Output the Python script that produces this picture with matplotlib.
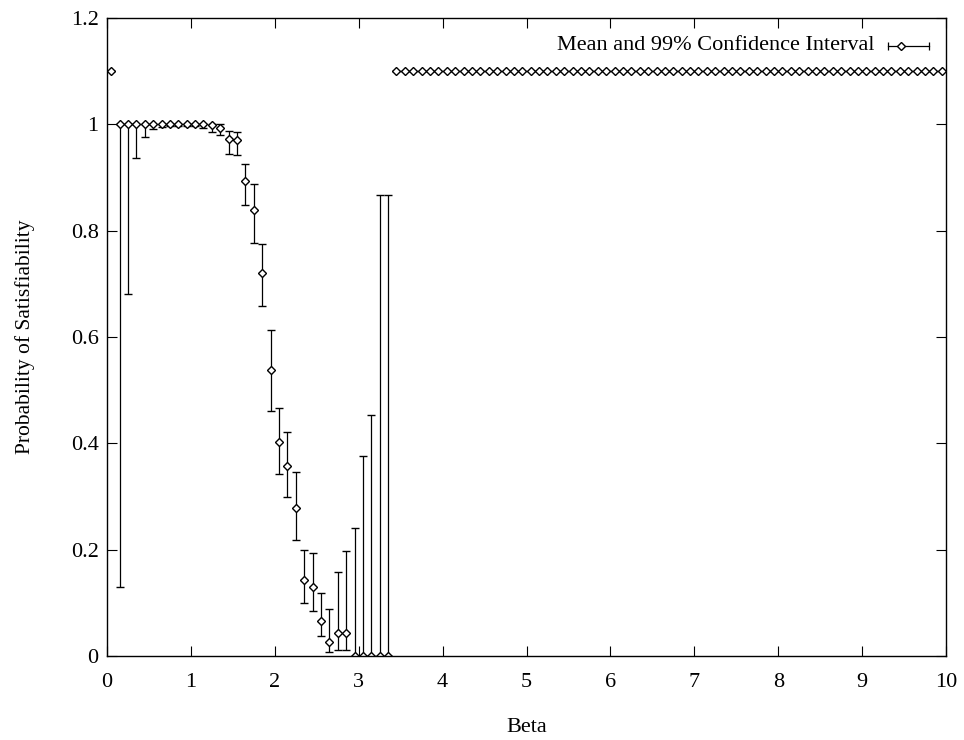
import numpy as np
import matplotlib
matplotlib.use("Agg")
import matplotlib.pyplot as plt

plt.rcParams["font.family"] = ["Liberation Serif", "DejaVu Serif"]

# beta values, mean probability, and 99% CI bounds
beta = [0.05, 0.15, 0.25, 0.35, 0.45, 0.55, 0.65, 0.75, 0.85, 0.95,
        1.05, 1.15, 1.25, 1.35, 1.45, 1.55, 1.65, 1.75, 1.85, 1.95,
        2.05, 2.15, 2.25, 2.35, 2.45, 2.55, 2.65, 2.75, 2.85, 2.95,
        3.05, 3.15, 3.25, 3.35]
mean = [1.1, 1.0, 1.0, 1.0, 1.0, 1.0, 1.0, 1.0, 1.0, 1.0,
        1.0, 1.0, 0.999, 0.994, 0.973, 0.970, 0.893, 0.839, 0.720, 0.537,
        0.403, 0.357, 0.278, 0.143, 0.130, 0.066, 0.027, 0.044, 0.044, 0.0,
        0.0, 0.0, 0.0, 0.0]
lower = [1.1, 0.13, 0.68, 0.937, 0.977, 0.991, 0.995, 0.997, 0.997, 0.997,
         0.996, 0.993, 0.985, 0.979, 0.945, 0.942, 0.848, 0.776, 0.658, 0.461,
         0.342, 0.299, 0.218, 0.100, 0.085, 0.037, 0.008, 0.011, 0.011, 0.0,
         0.0, 0.0, 0.0, 0.0]
upper = [1.1, 1.0, 1.0, 1.0, 1.0, 1.0, 1.0, 1.0, 1.0, 1.0,
         1.0, 1.0, 1.0, 1.0, 0.987, 0.985, 0.926, 0.887, 0.775, 0.613,
         0.466, 0.421, 0.347, 0.199, 0.194, 0.119, 0.088, 0.158, 0.197, 0.240,
         0.376, 0.453, 0.868, 0.868]

# runs that never finished are parked at 1.1
beta_none = [round(3.45 + 0.1 * i, 2) for i in range(66)]
mean_none = [1.1] * len(beta_none)

x = np.array(beta + beta_none)
y = np.array(mean + mean_none)
lo = np.array(lower + mean_none)
hi = np.array(upper + mean_none)
yerr = [y - lo, hi - y]

FS = 16

fig = plt.figure(figsize=(9.64, 7.40), dpi=100)
ax = fig.add_axes([107 / 964, 84 / 740, 839 / 964, 638 / 740])

ax.errorbar(x, y, yerr=yerr, fmt="D", color="black", ms=3.8, mfc="white",
            mec="black", mew=1.0, elinewidth=0.9, capsize=3, capthick=0.9)

ax.set_xlim(0, 10)
ax.set_ylim(0, 1.2)
ax.set_xticks(range(0, 11))
ax.set_yticks([0, 0.2, 0.4, 0.6, 0.8, 1.0, 1.2])
ax.set_yticklabels(["0", "0.2", "0.4", "0.6", "0.8", "1", "1.2"])
ax.tick_params(direction="in", length=7, width=0.8, top=True, right=True,
               labelsize=FS)
ax.tick_params(axis="x", pad=12)
ax.tick_params(axis="y", pad=6)
for s in ax.spines.values():
    s.set_linewidth(1.0)

ax.set_xlabel("Beta", fontsize=FS, labelpad=19)
ax.set_ylabel("Probability of Satisfiability", fontsize=15.5, labelpad=26)

# gnuplot-style key in the upper right
ky = 0.9566
ax.text(0.915, ky, "Mean and 99% Confidence Interval", transform=ax.transAxes,
        ha="right", va="center", fontsize=FS)
ax.plot([0.931, 0.980], [ky, ky], transform=ax.transAxes, color="black",
        lw=0.9, clip_on=False)
ax.plot([0.931, 0.980], [ky, ky], transform=ax.transAxes, ls="none",
        marker="|", ms=6, mew=0.9, color="black", clip_on=False)
ax.plot([0.946], [ky], transform=ax.transAxes, ls="none", marker="D", ms=3.8,
        mfc="white", mec="black", mew=1.0, clip_on=False)

fig.savefig("out.png", dpi=100)
